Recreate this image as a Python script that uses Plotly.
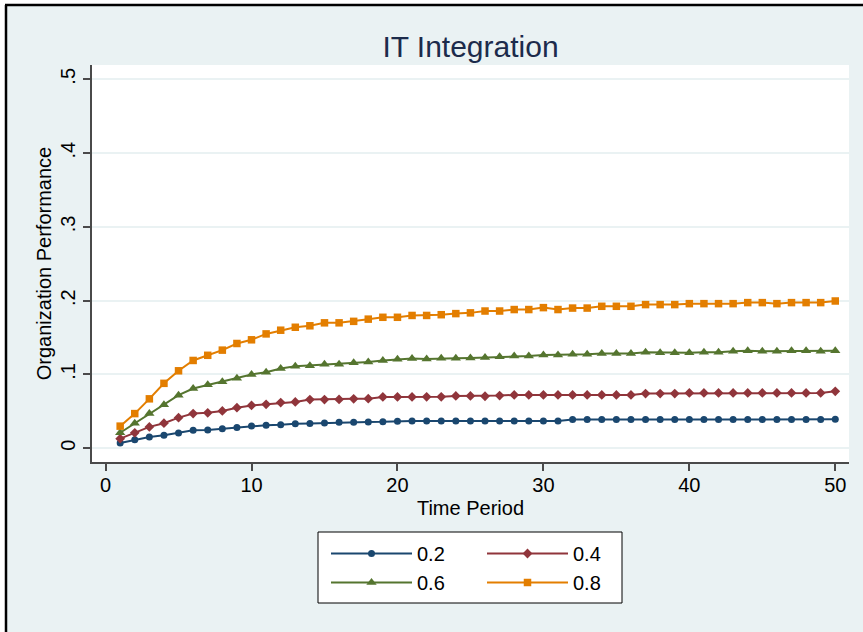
import plotly.graph_objects as go

# ---------------- data ----------------
time_period = list(range(1, 51))

series_names = ["0.2", "0.4", "0.6", "0.8"]

perf_02 = [0.0072, 0.0117, 0.0154, 0.0176, 0.0208, 0.0244, 0.0248, 0.0266, 0.0280, 0.0303,
           0.0312, 0.0320, 0.0334, 0.0336, 0.0343, 0.0352, 0.0353, 0.0357, 0.0358, 0.0366,
           0.0370, 0.0370, 0.0370, 0.0370, 0.0370, 0.0370, 0.0370, 0.0371, 0.0371, 0.0371,
           0.0371, 0.0390, 0.0391, 0.0391, 0.0391, 0.0391, 0.0391, 0.0391, 0.0391, 0.0391,
           0.0391, 0.0391, 0.0391, 0.0391, 0.0391, 0.0391, 0.0391, 0.0391, 0.0391, 0.0392]

perf_04 = [0.0130, 0.0210, 0.0290, 0.0340, 0.0415, 0.0470, 0.0480, 0.0506, 0.0550, 0.0580,
           0.0596, 0.0620, 0.0628, 0.0660, 0.0660, 0.0662, 0.0670, 0.0672, 0.0696, 0.0696,
           0.0696, 0.0697, 0.0697, 0.0709, 0.0710, 0.0705, 0.0714, 0.0723, 0.0723, 0.0723,
           0.0723, 0.0723, 0.0723, 0.0723, 0.0723, 0.0723, 0.0741, 0.0741, 0.0741, 0.0750,
           0.0750, 0.0750, 0.0750, 0.0750, 0.0750, 0.0750, 0.0750, 0.0750, 0.0750, 0.0772]

perf_06 = [0.0210, 0.0340, 0.0470, 0.0590, 0.0720, 0.0810, 0.0860, 0.0900, 0.0950, 0.1000,
           0.1030, 0.1080, 0.1110, 0.1120, 0.1140, 0.1140, 0.1160, 0.1170, 0.1190, 0.1206,
           0.1215, 0.1210, 0.1220, 0.1220, 0.1225, 0.1230, 0.1240, 0.1250, 0.1250, 0.1265,
           0.1265, 0.1275, 0.1275, 0.1285, 0.1285, 0.1285, 0.1300, 0.1295, 0.1295, 0.1295,
           0.1300, 0.1300, 0.1315, 0.1322, 0.1315, 0.1315, 0.1322, 0.1322, 0.1315, 0.1320]

perf_08 = [0.0300, 0.0470, 0.0670, 0.0880, 0.1050, 0.1190, 0.1260, 0.1330, 0.1420, 0.1470,
           0.1550, 0.1600, 0.1640, 0.1660, 0.1700, 0.1700, 0.1720, 0.1750, 0.1775, 0.1775,
           0.1800, 0.1800, 0.1810, 0.1825, 0.1835, 0.1860, 0.1860, 0.1880, 0.1880, 0.1906,
           0.1880, 0.1900, 0.1900, 0.1924, 0.1924, 0.1924, 0.1947, 0.1947, 0.1947, 0.1960,
           0.1960, 0.1960, 0.1960, 0.1974, 0.1974, 0.1960, 0.1974, 0.1974, 0.1974, 0.1996]

x_tick_vals = [0, 10, 20, 30, 40, 50]
y_tick_vals = [0, 0.1, 0.2, 0.3, 0.4, 0.5]
y_tick_text = ["0", ".1", ".2", ".3", ".4", ".5"]

chart_title = "IT Integration"
x_title = "Time Period"
y_title = "Organization Performance"

# ---------------- styling ----------------
colors = ["#1a476f", "#90353b", "#55752f", "#e37e00"]
symbols = ["circle", "diamond", "triangle-up", "square"]
sizes = [7, 7.5, 9, 7.5]
legend_ids = ["legend", "legend2", "legend", "legend2"]

W, H = 863, 632
ML, MR, MT, MB = 92, 14, 65, 170
PW, PH = W - ML - MR, H - MT - MB


def px_x(px):
    return (px - ML) / PW


def px_y(py):
    return (H - MB - py) / PH


FONT = "Liberation Sans, Arial, Helvetica, sans-serif"
BG = "#eaf2f3"

fig = go.Figure()
all_series = [perf_02, perf_04, perf_06, perf_08]
for name, vals, c, s, sz, lg in zip(series_names, all_series, colors, symbols, sizes, legend_ids):
    fig.add_trace(go.Scatter(
        x=time_period, y=vals, name=name, mode="lines+markers",
        line=dict(color=c, width=2),
        marker=dict(color=c, symbol=s, size=sz, line=dict(width=0)),
        legend=lg,
    ))

shapes = [
    # white area outside the outer frame
    dict(type="rect", xref="paper", yref="paper", x0=px_x(-5), x1=px_x(5), y0=px_y(H + 5), y1=px_y(-5),
         fillcolor="white", line=dict(width=0), layer="above"),
    dict(type="rect", xref="paper", yref="paper", x0=px_x(-5), x1=px_x(W + 5), y0=px_y(4), y1=px_y(-5),
         fillcolor="white", line=dict(width=0), layer="above"),
    # outer frame lines (left and top)
    dict(type="line", xref="paper", yref="paper", x0=px_x(6), x1=px_x(6), y0=px_y(H + 5), y1=px_y(5),
         line=dict(color="black", width=2.5), layer="above"),
    dict(type="line", xref="paper", yref="paper", x0=px_x(5), x1=px_x(W + 5), y0=px_y(5), y1=px_y(5),
         line=dict(color="black", width=2.5), layer="above"),
    # legend box
    dict(type="rect", xref="paper", yref="paper", x0=px_x(318), x1=px_x(622), y0=px_y(603), y1=px_y(532),
         fillcolor="white", line=dict(color="black", width=1), layer="below"),
]

fig.update_layout(
    width=W, height=H,
    margin=dict(l=ML, r=MR, t=MT, b=MB),
    paper_bgcolor=BG, plot_bgcolor="white",
    font=dict(family=FONT, size=20, color="black"),
    title=dict(text=chart_title, x=px_x(470.5), xref="paper", xanchor="center",
               y=1 - 46 / H, yref="container", yanchor="middle",
               font=dict(size=30, color="#1c2b4b", family=FONT)),
    xaxis=dict(range=[-0.93, 50.94], tickvals=x_tick_vals, showgrid=False, zeroline=False,
               showline=True, linecolor="#4a4a4a", linewidth=1.5,
               ticks="outside", ticklen=7, tickwidth=1.5, tickcolor="#4a4a4a",
               tickfont=dict(size=20, color="black"), ticklabelstandoff=-3,
               title=dict(text=x_title, font=dict(size=20, color="black"), standoff=6)),
    yaxis=dict(range=[-0.0186, 0.5194], tickvals=y_tick_vals, ticktext=y_tick_text,
               tickangle=-90, showgrid=True, gridcolor=BG, gridwidth=1.5, zeroline=False,
               showline=True, linecolor="#4a4a4a", linewidth=1.5,
               ticks="outside", ticklen=7, tickwidth=1.5, tickcolor="#4a4a4a",
               tickfont=dict(size=20, color="black"),
               title=dict(text=y_title, font=dict(size=20, color="black"), standoff=0)),
    legend=dict(x=px_x(326), y=px_y(534), xanchor="left", yanchor="top",
                bgcolor="rgba(0,0,0,0)", borderwidth=0, font=dict(size=20, color="black"),
                itemwidth=81, tracegroupgap=0),
    legend2=dict(x=px_x(482), y=px_y(534), xanchor="left", yanchor="top",
                 bgcolor="rgba(0,0,0,0)", borderwidth=0, font=dict(size=20, color="black"),
                 itemwidth=81, tracegroupgap=0),
    shapes=shapes,
)

fig.write_html("out.html")
